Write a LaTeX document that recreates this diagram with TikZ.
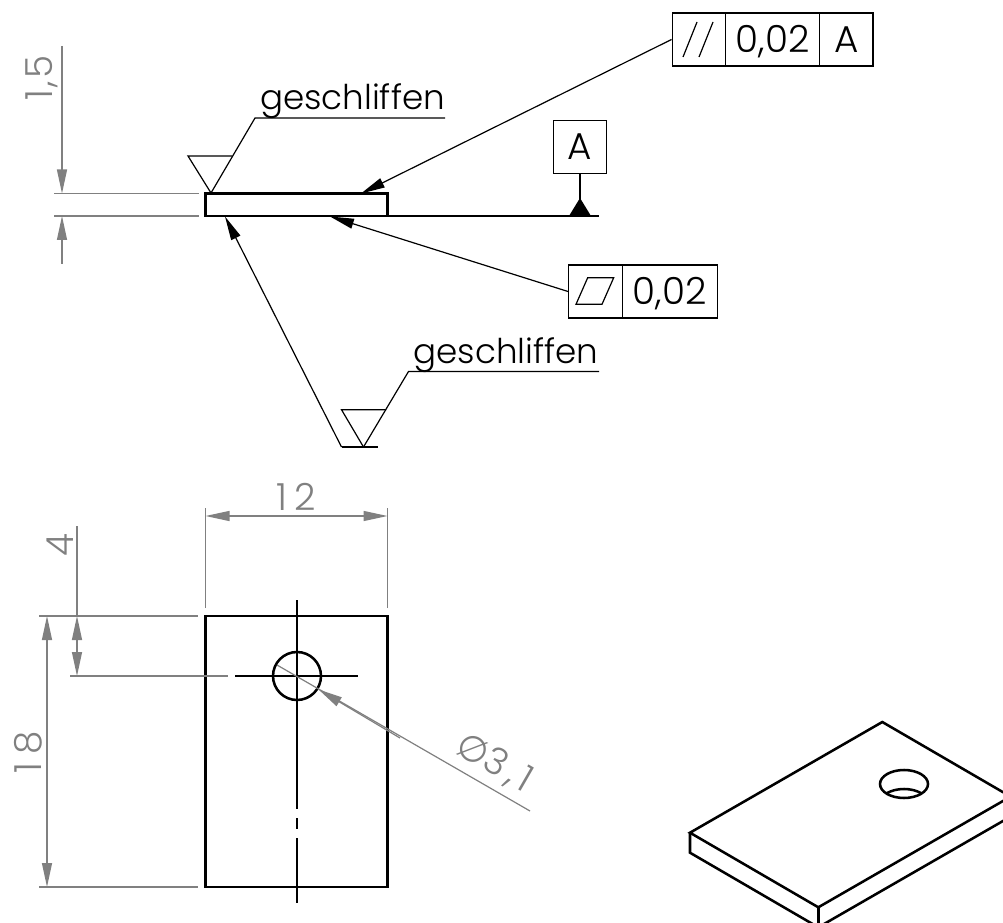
\documentclass[tikz,border=0pt]{standalone}
\usepackage{fontspec}
\setmainfont{Poppins Light}
\newfontfamily\symfont{DejaVu Sans}
\newcommand{\spaced}[2]{{\addfontfeature{LetterSpace=#1}#2}}
\usetikzlibrary{arrows.meta}
\definecolor{dimgrey}{RGB}{128,128,128}
\tikzset{
  thin line/.style={line width=0.9pt,black},
  outline/.style={line width=1.9pt,black,line join=miter},
  dimline/.style={line width=0.9pt,dimgrey},
  dimarrows/.style={dimline,{Triangle[length=18pt,width=7.5pt]}-{Triangle[length=18pt,width=7.5pt]}},
  dimarrow/.style={dimline,-{Triangle[length=18pt,width=7.5pt]}},
  blackarrow/.style={thin line,-{Triangle[length=18pt,width=7.5pt]}},
  cell/.style={draw=black,line width=0.9pt,fill=white,rectangle,inner sep=0pt,minimum height=39.75pt,text height=19.6pt,text depth=0pt,font=\fontsize{28}{28}\selectfont},
  dimtext/.style={text=dimgrey,font=\fontsize{28}{28}\selectfont,inner sep=0pt},
  note/.style={text=black,font=\fontsize{25.6}{26}\selectfont,inner sep=0pt,anchor=base},
}
\begin{document}
\begin{tikzpicture}[x=0.75pt,y=-0.75pt]
\path[use as bounding box,fill=white] (0,0) rectangle (1003,923);

% named end points
\coordinate (dTop) at (62,46); \coordinate (dBot) at (62,264);
\coordinate (dTopTip) at (62,193.5); \coordinate (dBotTip) at (62,216);
\coordinate (sideTL) at (205.5,193.5); \coordinate (sideBR) at (387.5,216);
\coordinate (tipA) at (361,193.5); \coordinate (tipB) at (330,216.5); \coordinate (tipC) at (225,216.5);
\coordinate (rough1) at (211,193);
\coordinate (rough2) at (363.5,447);

% side view
\draw[dimline] (54,193.5) -- (199,193.5);
\draw[dimline] (54,216) -- (199,216);
\draw[dimarrow] (dTop) -- (dTopTip);
\draw[dimarrow] (dBot) -- (dBotTip);
\node[dimtext,rotate=90] (t15) at (42,78) {\spaced{6}{1,5}};
\draw[thin line] (sideBR) -- (598.5,216);
\draw[outline] (sideTL) rectangle (sideBR);

% upper roughness symbol
\draw[thin line] (rough1) -- (188,156) -- (232,156);
\draw[thin line] (rough1) -- (255,118) -- (445,118);
\node[note] (g1) at (352.5,110) {geschliffen};

% parallelism frame
\node[cell,minimum width=40pt,anchor=west] (fA1) at (671.5,39.5) {};
\node[cell,minimum width=70.5pt,anchor=west] (fA2) at (725,39.5) {0,02};
\node[cell,minimum width=40pt,anchor=west] (fA3) at (819,39.5) {A};
\draw[thin line] (683,57) -- (697,22);
\draw[thin line] (699,57) -- (713,22);
\draw[blackarrow] (fA1.west) -- (tipA);

% datum
\node[cell,minimum width=40pt,anchor=south] (datum) at (580,174) {A};
\coordinate (datumFoot) at (580,216);
\draw[thin line] (datum.south) -- (datumFoot);
\fill[black] (569,216) -- (591,216) -- (580,198) -- cycle;

% flatness frame
\node[cell,minimum width=40.5pt,anchor=west] (fB1) at (568,291.5) {};
\node[cell,minimum width=70.9pt,anchor=west] (fB2) at (622,291.5) {0,02};
\draw[thin line] (576,304.3) -- (602,304.3) -- (613.7,277.7) -- (587.7,277.7) -- cycle;
\draw[blackarrow] (fB1.west) -- (tipB);

% lower roughness symbol
\draw[blackarrow] (341.5,447) -- (tipC);
\draw[thin line] (341.5,447) -- (377.5,447);
\draw[thin line] (rough2) -- (341.5,409.7) -- (386,409.7);
\draw[thin line] (rough2) -- (408.5,371.5) -- (599,371.5);
\node[note] (g2) at (506,363.5) {geschliffen};

% front view
\draw[outline] (205.5,616) rectangle (387.5,887);
\draw[outline] (297,676) circle [radius=24];
\draw[thin line] (297,600) -- (297,809);
\draw[thin line] (297,818) -- (297,829);
\draw[thin line] (297,838) -- (297,903);
\draw[thin line] (235,676) -- (358,676);

% dimensions of front view
\draw[dimline] (205.5,608) -- (205.5,508);
\draw[dimline] (387.5,608) -- (387.5,508);
\draw[dimarrows] (205.5,516) -- (387.5,516);
\node[dimtext] (t12) at (296,497) {\spaced{18}{12}};
\draw[dimline] (39,616) -- (198,616);
\draw[dimline] (39,887) -- (198,887);
\draw[dimline] (70,676) -- (228,676);
\draw[dimarrows] (47,616) -- (47,887);
\node[dimtext,rotate=90] (t18) at (28,752) {\spaced{22}{18}};
\draw[dimline] (77,526) -- (77,616);
\draw[dimarrows] (77,616) -- (77,676);
\node[dimtext,rotate=90] (t4) at (60,545) {4};

% diameter
\draw[dimline] (277,665) -- (530,811);
\draw[dimarrow] (400,738) -- (318.5,689.5);
\node[dimtext,rotate=-30] (tdia) at (494,763) {{\symfont\fontsize{27}{27}\selectfont ∅}\spaced{15}{3,1}};

% isometric view
\begin{scope}
\clip (0,0) rectangle (1003,923);
\draw[outline] (882.3,722) -- (690,832.7) -- (818.3,907.3) -- (1010.6,796.6) -- cycle;
\draw[outline] (690,832.7) -- (690,852.7) -- (818.3,927.3) -- (1010.6,816.6);
\draw[outline] (818.3,907.3) -- (818.3,927.3);
\draw[outline] (904,784) ellipse [x radius=24,y radius=14];
\begin{scope}
\clip (904,784) ellipse [x radius=24,y radius=14];
\draw[outline] (904,803) ellipse [x radius=24,y radius=14];
\end{scope}
\end{scope}
\end{tikzpicture}
\end{document}
